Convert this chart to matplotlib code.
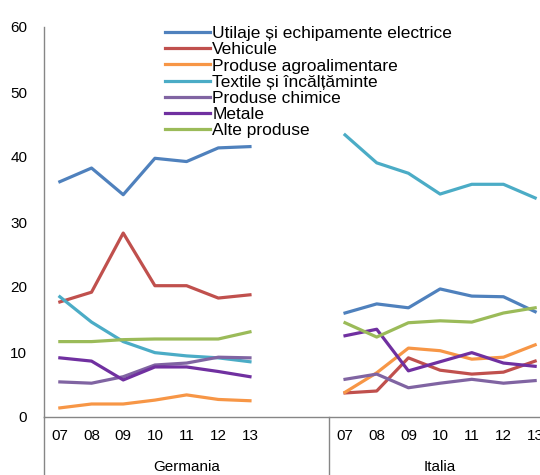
import matplotlib
matplotlib.use("Agg")
import matplotlib.pyplot as plt

plt.rcParams['font.family'] = ['Liberation Sans', 'DejaVu Sans']

years = ['07', '08', '09', '10', '11', '12', '13']
countries = ['Germania', 'Italia']

labels = [
    'Utilaje și echipamente electrice',
    'Vehicule',
    'Produse agroalimentare',
    'Textile și încălțăminte',
    'Produse chimice',
    'Metale',
    'Alte produse',
]
colors = ['#4F81BD', '#C0504D', '#F79646', '#4BACC6', '#8064A2', '#7030A0', '#9BBB59']

# values per product group, years 2007-2013
germania = [
    [36.2, 38.3, 34.2, 39.8, 39.3, 41.4, 41.6],
    [17.7, 19.2, 28.3, 20.2, 20.2, 18.3, 18.8],
    [1.4, 2.0, 2.0, 2.6, 3.4, 2.7, 2.5],
    [18.5, 14.6, 11.6, 9.9, 9.4, 9.1, 8.5],
    [5.4, 5.2, 6.2, 8.0, 8.3, 9.2, 9.1],
    [9.1, 8.6, 5.7, 7.7, 7.7, 7.0, 6.2],
    [11.6, 11.6, 11.9, 12.0, 12.0, 12.0, 13.1],
]
italia = [
    [16.0, 17.4, 16.8, 19.7, 18.6, 18.5, 16.2],
    [3.7, 4.0, 9.1, 7.2, 6.6, 6.9, 8.6],
    [3.8, 6.8, 10.6, 10.2, 8.9, 9.2, 11.1],
    [43.4, 39.1, 37.5, 34.3, 35.8, 35.8, 33.7],
    [5.8, 6.6, 4.5, 5.2, 5.8, 5.2, 5.6],
    [12.5, 13.5, 7.1, 8.5, 9.9, 8.3, 7.8],
    [14.5, 12.3, 14.5, 14.8, 14.6, 16.0, 16.8],
]

# each country gets a block of 9 category slots, the last two left empty
x_de = list(range(7))
x_it = [i + 9 for i in range(7)]

fig = plt.figure(figsize=(5.4, 4.75), dpi=100)
ax = fig.add_axes([44 / 540, 58 / 475, 507 / 540, 390 / 475])

for i in range(len(labels)):
    ax.plot(x_de, germania[i], color=colors[i], lw=2.3, label=labels[i])
    ax.plot(x_it, italia[i], color=colors[i], lw=2.3)

ax.set_ylim(0, 60)
ax.set_xlim(-0.5, 15.5)
ax.set_yticks(range(0, 61, 10))
ax.set_xticks(x_de + x_it)
ax.set_xticklabels(years + years)
ax.tick_params(axis='both', length=0, labelsize=11)
ax.tick_params(axis='y', pad=12)
ax.tick_params(axis='x', pad=9)

for side in ['top', 'right']:
    ax.spines[side].set_visible(False)
for side in ['left', 'bottom']:
    ax.spines[side].set_color('#868686')
    ax.spines[side].set_linewidth(1)

# group dividers below the axis
ax.axvline(-0.5, ymin=-0.15, ymax=0, color='#868686', lw=1, clip_on=False)
ax.axvline(8.5, ymin=-0.15, ymax=0, color='#868686', lw=1, clip_on=False)

for xc, name in zip([4, 12], countries):
    ax.text(xc, -0.128, name, transform=ax.get_xaxis_transform(),
            ha='center', va='center', fontsize=11)

fig.legend(loc='upper left', bbox_to_anchor=(165 / 540, 1 - 26 / 475),
           frameon=False, fontsize=12.5, handlelength=2.6, handletextpad=0.12,
           labelspacing=0.06, borderaxespad=0, borderpad=0)

fig.savefig('out.png', dpi=100)
